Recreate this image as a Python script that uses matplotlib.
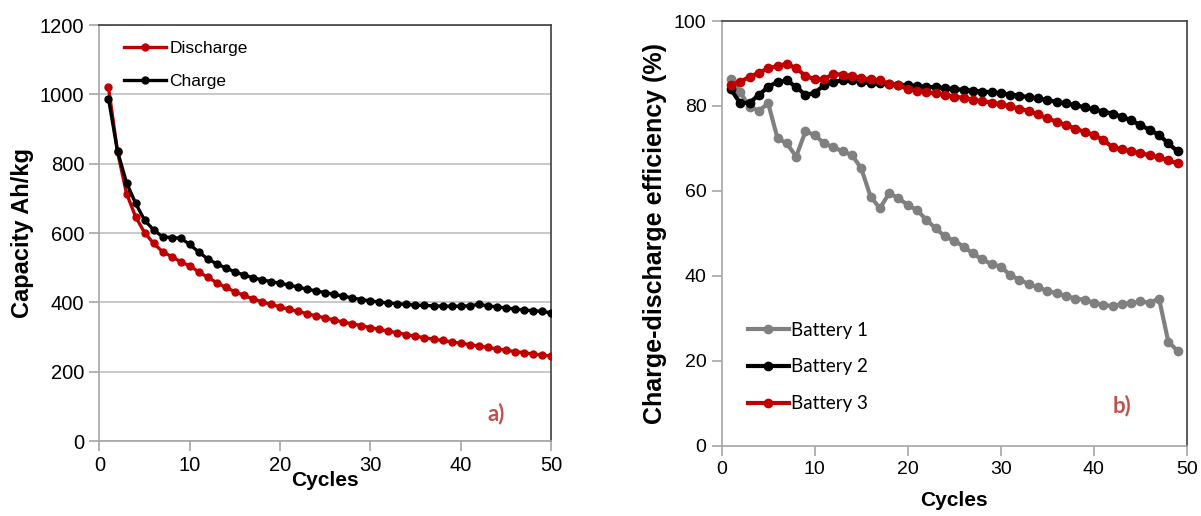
import numpy as np
import matplotlib
matplotlib.use('Agg')
import matplotlib.pyplot as plt

# capacity per cycle (Ah/kg)
cycles_cap = list(range(1, 51))
discharge = [1020, 835, 714, 647, 601, 570, 546, 532, 517, 505,
             488, 472, 457, 443, 431, 420, 410, 402, 394, 387,
             380, 374, 367, 361, 355, 349, 343, 338, 333, 327,
             322, 317, 312, 307, 302, 298, 294, 290, 286, 282,
             278, 274, 270, 266, 262, 258, 255, 251, 248, 245]
charge = [988, 836, 745, 686, 637, 609, 589, 587, 585, 567,
          545, 525, 511, 499, 488, 479, 471, 465, 460, 455,
          450, 444, 438, 433, 428, 423, 418, 413, 408, 404,
          401, 398, 396, 394, 392, 391, 390, 389, 389, 389,
          390, 394, 390, 387, 384, 381, 378, 376, 374, 370]

# charge-discharge efficiency per cycle (%)
cycles_eff = list(range(1, 50))
battery1 = [86.4, 83.2, 79.8, 78.9, 80.6, 72.4, 71.2, 68.1, 74.0, 73.2,
            71.2, 70.3, 69.3, 68.5, 65.3, 58.7, 55.9, 59.5, 58.3, 56.7,
            55.5, 53.2, 51.2, 49.3, 48.3, 46.9, 45.3, 43.9, 42.8, 42.2,
            40.2, 39.1, 38.1, 37.3, 36.5, 35.9, 35.3, 34.7, 34.4, 33.7,
            33.2, 32.9, 33.4, 33.7, 34.0, 33.7, 34.7, 24.5, 22.4]
battery2 = [83.9, 80.6, 80.8, 82.6, 84.5, 85.7, 86.0, 84.5, 82.6, 83.1,
            84.9, 85.7, 86.0, 86.0, 85.7, 85.3, 85.3, 85.2, 85.0, 84.9,
            84.7, 84.5, 84.4, 84.2, 84.0, 83.8, 83.6, 83.4, 83.2, 83.0,
            82.7, 82.4, 82.1, 81.8, 81.4, 81.0, 80.6, 80.2, 79.7, 79.2,
            78.7, 78.2, 77.5, 76.6, 75.5, 74.4, 73.2, 71.2, 69.3]
battery3 = [84.9, 85.7, 86.9, 87.8, 88.9, 89.4, 89.9, 88.9, 87.1, 86.3,
            86.3, 87.5, 87.4, 87.1, 86.5, 86.3, 86.0, 85.2, 85.0, 83.9,
            83.6, 83.3, 83.0, 82.6, 82.2, 81.9, 81.5, 81.1, 80.8, 80.4,
            79.9, 79.4, 78.8, 78.0, 77.1, 76.3, 75.5, 74.7, 73.9, 73.2,
            72.0, 70.3, 69.8, 69.3, 68.9, 68.4, 67.9, 67.2, 66.5]

RED = '#C00000'
GRAY = '#808080'
TAG = '#C0504D'
plt.rcParams['font.family'] = ['Liberation Sans', 'DejaVu Sans']

fig = plt.figure(figsize=(12.01, 5.16), dpi=100)
ax1 = fig.add_axes([0.0828, 0.1453, 0.3759, 0.8062])
ax2 = fig.add_axes([0.6009, 0.1357, 0.3874, 0.8236])


def style_axes(ax, size):
    for side in ('left', 'bottom'):
        ax.spines[side].set_color('#A6A6A6')
        ax.spines[side].set_linewidth(1.2)
    for side in ('top', 'right'):
        ax.spines[side].set_color('#404040')
        ax.spines[side].set_linewidth(1.2)
    ax.tick_params(direction='out', length=7, width=1.2, color='#A6A6A6',
                   labelsize=size, pad=4)


# a) capacity
ax1.plot(cycles_cap, discharge, color=RED, lw=2.4, marker='o', ms=5, label='Discharge', zorder=3)
ax1.plot(cycles_cap, charge, color='black', lw=2.4, marker='o', ms=5, label='Charge', zorder=4)
ax1.set_xlim(0, 50)
ax1.set_ylim(0, 1200)
ax1.set_xticks(np.arange(0, 51, 10))
ax1.set_yticks(np.arange(0, 1201, 200))
ax1.yaxis.grid(True, color='#BFBFBF', lw=1.2)
ax1.set_axisbelow(True)
style_axes(ax1, 14.5)
ax1.set_xlabel('Cycles', fontsize=15, fontweight='bold', labelpad=-3)
ax1.set_ylabel('Capacity Ah/kg', fontsize=17, fontweight='bold', labelpad=4)
ax1.legend(loc='upper left', bbox_to_anchor=(0.02, 1.0), frameon=False, fontsize=12.5,
           handlelength=2.4, handletextpad=0.2, labelspacing=1.05, borderaxespad=0.5)
ax1.text(0.86, 0.05, 'a)', transform=ax1.transAxes, color=TAG, fontsize=16,
         fontweight='bold', family=['Lato', 'DejaVu Sans'])

# b) efficiency
ax2.plot(cycles_eff, battery1, color=GRAY, lw=3, marker='o', ms=6, label='Battery 1', zorder=3)
ax2.plot(cycles_eff, battery2, color='black', lw=3, marker='o', ms=6, label='Battery 2', zorder=4)
ax2.plot(cycles_eff, battery3, color=RED, lw=3, marker='o', ms=6, label='Battery 3', zorder=5)
ax2.set_xlim(0, 50)
ax2.set_ylim(0, 100)
ax2.set_xticks(np.arange(0, 51, 10))
ax2.set_yticks(np.arange(0, 101, 20))
style_axes(ax2, 14)
ax2.set_xlabel('Cycles', fontsize=15, fontweight='bold', labelpad=9)
ax2.set_ylabel('Charge-discharge efficiency (%)', fontsize=18, fontweight='bold', labelpad=5)
ax2.legend(loc='lower left', bbox_to_anchor=(0.02, 0.04), frameon=False,
           prop={'family': ['Lato', 'DejaVu Sans'], 'size': 13.5},
           handlelength=2.2, handletextpad=0.1, labelspacing=1.05)
ax2.text(0.84, 0.08, 'b)', transform=ax2.transAxes, color=TAG, fontsize=16,
         fontweight='bold', family=['Lato', 'DejaVu Sans'])

fig.savefig('out.png', dpi=100)
